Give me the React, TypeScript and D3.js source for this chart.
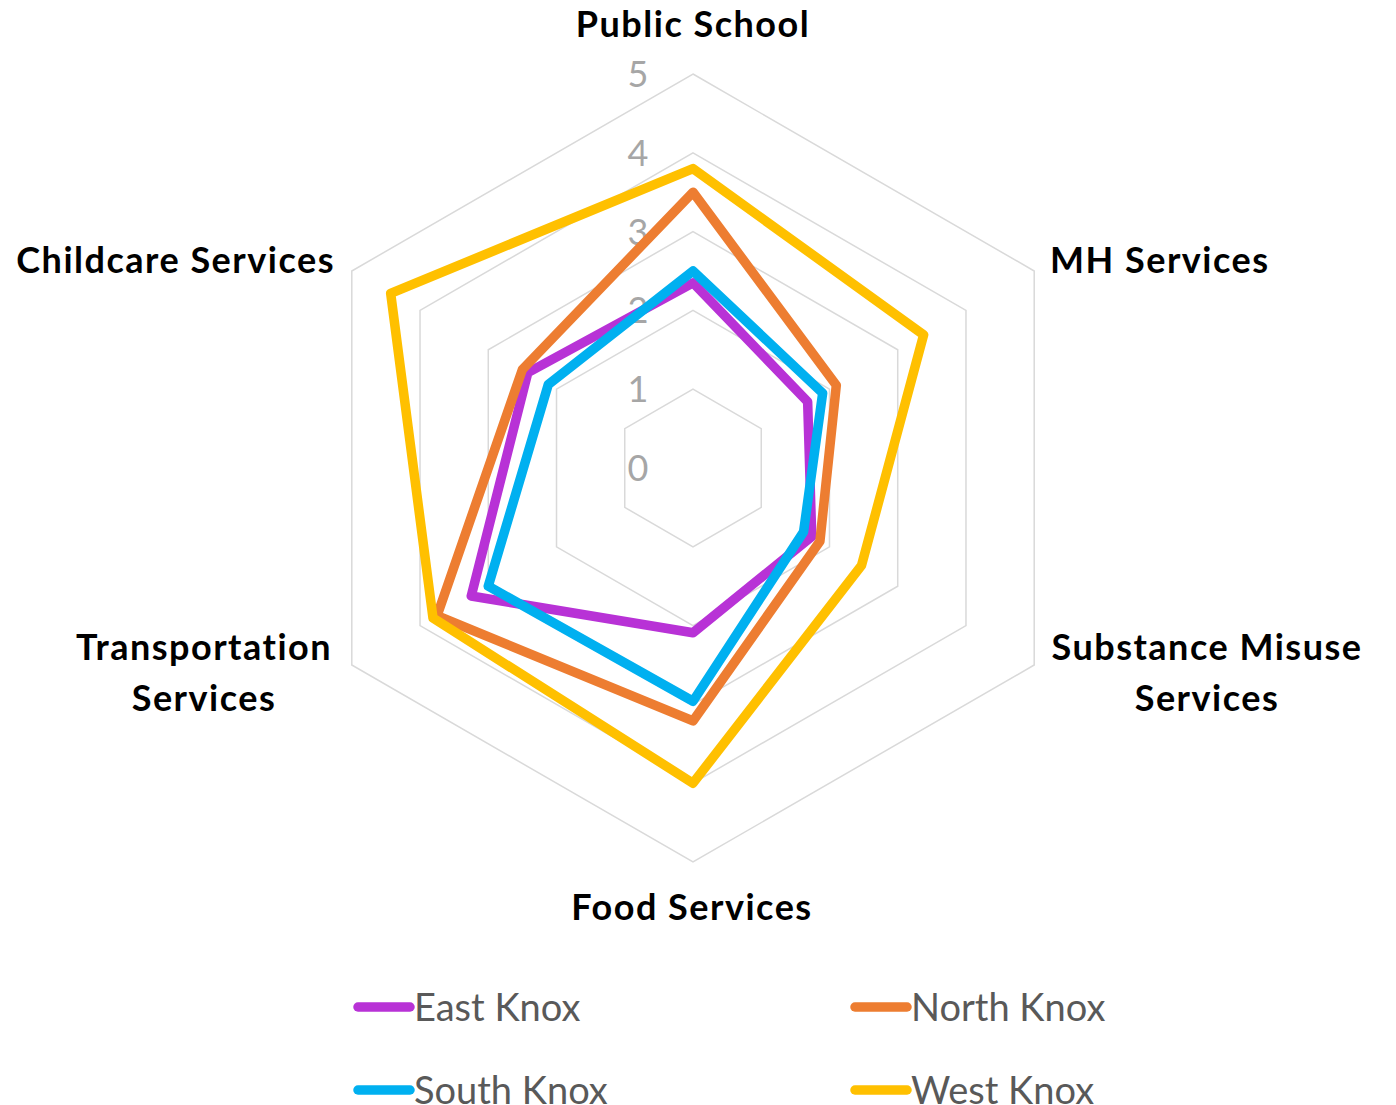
import React, { useEffect, useRef } from 'react';
import * as d3 from 'd3';

const categories = ['Public School', 'MH Services', 'Substance Misuse Services', 'Food Services', 'Transportation Services', 'Childcare Services'];
const seriesNames = ['East Knox', 'North Knox', 'South Knox', 'West Knox'];
const seriesColors = ['#B832D6', '#ED7D31', '#00B0F0', '#FFC000'];
const eastKnox = [2.35, 1.68, 1.74, 2.09, 3.25, 2.42];
const northKnox = [3.5, 2.1, 1.86, 3.21, 3.75, 2.5];
const southKnox = [2.5, 1.9, 1.62, 2.96, 3.0, 2.12];
const westKnox = [3.8, 3.38, 2.47, 4.0, 3.81, 4.43];
const tickValues = [0, 1, 2, 3, 4, 5];

const App: React.FC = () => {
    const ref = useRef<SVGSVGElement>(null);

    useEffect(() => {
        if (!ref.current) return;
        const svg = d3.select(ref.current);
        svg.selectAll('*').remove();

        const cx = 693;
        const cy = 468;
        const r = d3.scaleLinear().domain([0, 5]).range([0, 394]);
        const angle = (i: number) => (i * 2 * Math.PI) / categories.length;
        const font = 'Lato, "Open Sans", sans-serif';

        const g = svg.append('g').attr('transform', `translate(${cx},${cy})`);

        // Grid hexagons
        const ring = d3.lineRadial<number>()
            .angle((_, i) => angle(i))
            .radius(d => r(d))
            .curve(d3.curveLinearClosed);

        tickValues.filter(t => t > 0).forEach(t => {
            g.append('path')
                .attr('d', ring(categories.map(() => t)))
                .attr('fill', 'none')
                .attr('stroke', '#D9D9D9')
                .attr('stroke-width', 1.5);
        });

        // Tick labels
        g.selectAll('.tick')
            .data(tickValues)
            .enter()
            .append('text')
            .attr('x', -55)
            .attr('y', d => -r(d))
            .attr('dy', '0.36em')
            .attr('text-anchor', 'middle')
            .attr('font-family', font)
            .attr('font-size', 36)
            .attr('fill', '#A6A6A6')
            .text(d => d);

        // Series
        const allSeries = [eastKnox, northKnox, southKnox, westKnox];
        allSeries.forEach((vals, si) => {
            g.append('path')
                .attr('d', ring(vals))
                .attr('fill', 'none')
                .attr('stroke', seriesColors[si])
                .attr('stroke-width', 9.5)
                .attr('stroke-linejoin', 'round');
        });

        // Category labels
        const labels = [
            { lines: ['Public School'], x: 693, y: 24, anchor: 'middle' },
            { lines: ['MH Services'], x: 1050, y: 260, anchor: 'start' },
            { lines: ['Substance Misuse', 'Services'], x: 1207, y: 647, anchor: 'middle' },
            { lines: ['Food Services'], x: 692, y: 907, anchor: 'middle' },
            { lines: ['Transportation', 'Services'], x: 204, y: 647, anchor: 'middle' },
            { lines: ['Childcare Services'], x: 335, y: 260, anchor: 'end' },
        ];
        labels.forEach(l => {
            const t = svg.append('text')
                .attr('text-anchor', l.anchor)
                .attr('font-family', font)
                .attr('font-weight', 'bold')
                .attr('font-size', 36)
                .attr('letter-spacing', 1.5)
                .attr('fill', '#000');
            l.lines.forEach((line, i) => {
                t.append('tspan')
                    .attr('x', l.x)
                    .attr('y', l.y + i * 51)
                    .attr('dy', '0.36em')
                    .text(line);
            });
        });

        // Legend
        const legendPos = [
            { x: 358, y: 1007 },
            { x: 855, y: 1007 },
            { x: 358, y: 1090 },
            { x: 855, y: 1090 },
        ];
        seriesNames.forEach((name, i) => {
            const p = legendPos[i];
            svg.append('line')
                .attr('x1', p.x)
                .attr('x2', p.x + 52)
                .attr('y1', p.y)
                .attr('y2', p.y)
                .attr('stroke', seriesColors[i])
                .attr('stroke-width', 9.5)
                .attr('stroke-linecap', 'round');
            svg.append('text')
                .attr('x', p.x + 56)
                .attr('y', p.y)
                .attr('dy', '0.36em')
                .attr('font-family', font)
                .attr('font-size', 38)
                .attr('fill', '#595959')
                .text(name);
        });
    }, []);

    return (
        <svg ref={ref} width={1396} height={1105} style={{ position: 'absolute', left: 0, top: 0 }}></svg>
    );
};

export default App;
